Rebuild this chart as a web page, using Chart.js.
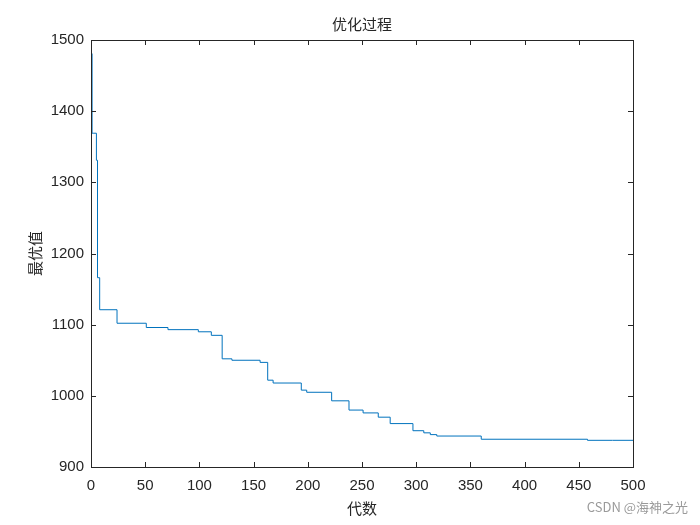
<!DOCTYPE html>
<html>
<head>
<meta charset="utf-8">
<script src="https://cdn.jsdelivr.net/npm/chart.js@4"></script>
<style>
  html, body { margin: 0; padding: 0; background: #fff; }
  #wrap { width: 700px; height: 525px; }
</style>
</head>
<body>
<div id="wrap"><canvas id="myChart"></canvas></div>
<script>
// generation where the best value changes, and the value held from there on
const gens = [1, 2, 5, 6, 8, 24, 51, 71, 99, 111, 121, 130, 156, 163, 168, 194, 199, 222, 238, 251, 265, 276, 297, 307, 313, 319, 360, 458, 481, 500];
const bestVals = [1481, 1369, 1369, 1331, 1166, 1121, 1102, 1096, 1093, 1090, 1085, 1052, 1050, 1047, 1022, 1018, 1008, 1005, 993, 980, 976, 970, 961, 951, 948, 945.5, 943.5, 939, 937.5, 937.5];
const xTicks = [0, 50, 100, 150, 200, 250, 300, 350, 400, 450, 500];
const yTicks = [900, 1000, 1100, 1200, 1300, 1400, 1500];

const cjk = '"Noto Sans CJK SC", sans-serif';

const framePlugin = {
    id: 'frame',
    afterDraw(chart) {
        const ctx = chart.ctx;
        const a = chart.chartArea;
        const xs = chart.scales.x, ys = chart.scales.y;
        ctx.save();
        ctx.strokeStyle = '#262626';
        ctx.lineWidth = 1;
        ctx.strokeRect(a.left + 0.5, a.top + 0.5, a.right - a.left, a.bottom - a.top);
        ctx.beginPath();
        xTicks.forEach(v => {
            const px = Math.round(xs.getPixelForValue(v)) + 0.5;
            ctx.moveTo(px, a.bottom); ctx.lineTo(px, a.bottom - 5);
            ctx.moveTo(px, a.top); ctx.lineTo(px, a.top + 5);
        });
        yTicks.forEach(v => {
            const py = Math.round(ys.getPixelForValue(v)) + 0.5;
            ctx.moveTo(a.left, py); ctx.lineTo(a.left + 5, py);
            ctx.moveTo(a.right, py); ctx.lineTo(a.right - 5, py);
        });
        ctx.stroke();
        ctx.fillStyle = '#262626';
        ctx.textAlign = 'center';
        ctx.textBaseline = 'middle';
        ctx.font = '15px ' + cjk;
        ctx.fillText('优化过程', (a.left + a.right) / 2, 24);
        ctx.fillText('代数', (a.left + a.right) / 2, 508);
        ctx.save();
        ctx.translate(35, (a.top + a.bottom) / 2);
        ctx.rotate(-Math.PI / 2);
        ctx.fillText('最优值', 0, 0);
        ctx.restore();
        ctx.fillStyle = '#9a9a9a';
        ctx.textAlign = 'right';
        ctx.font = '13px ' + cjk;
        ctx.fillText('CSDN @海神之光', 688, 507);
        ctx.restore();
    }
};

new Chart(document.getElementById('myChart'), {
    type: 'line',
    data: {
        datasets: [{
            data: gens.map((g, i) => ({ x: g, y: bestVals[i] })),
            stepped: 'after',
            borderColor: '#0072BD',
            borderWidth: 1,
            pointRadius: 0,
            fill: false
        }]
    },
    options: {
        animation: false,
        responsive: true,
        maintainAspectRatio: false,
        layout: { padding: { left: 0, top: 40, right: 67, bottom: 0 } },
        plugins: { legend: { display: false }, tooltip: { enabled: false } },
        scales: {
            x: {
                type: 'linear', min: 0, max: 500,
                afterFit: s => { s.height = 58; },
                afterBuildTicks: s => { s.ticks = xTicks.map(v => ({ value: v })); },
                grid: { display: false, drawTicks: false },
                border: { display: false },
                ticks: { color: '#262626', padding: 10, maxRotation: 0,
                         callback: v => String(v),
                         font: { family: '"Liberation Sans", Arial', size: 15 } }
            },
            y: {
                min: 900, max: 1500,
                afterFit: s => { s.width = 91; },
                afterBuildTicks: s => { s.ticks = yTicks.map(v => ({ value: v })); },
                grid: { display: false, drawTicks: false },
                border: { display: false },
                ticks: { color: '#262626', padding: 7,
                         callback: v => String(v),
                         font: { family: '"Liberation Sans", Arial', size: 15 } }
            }
        }
    },
    plugins: [framePlugin]
});
</script>
</body>
</html>
